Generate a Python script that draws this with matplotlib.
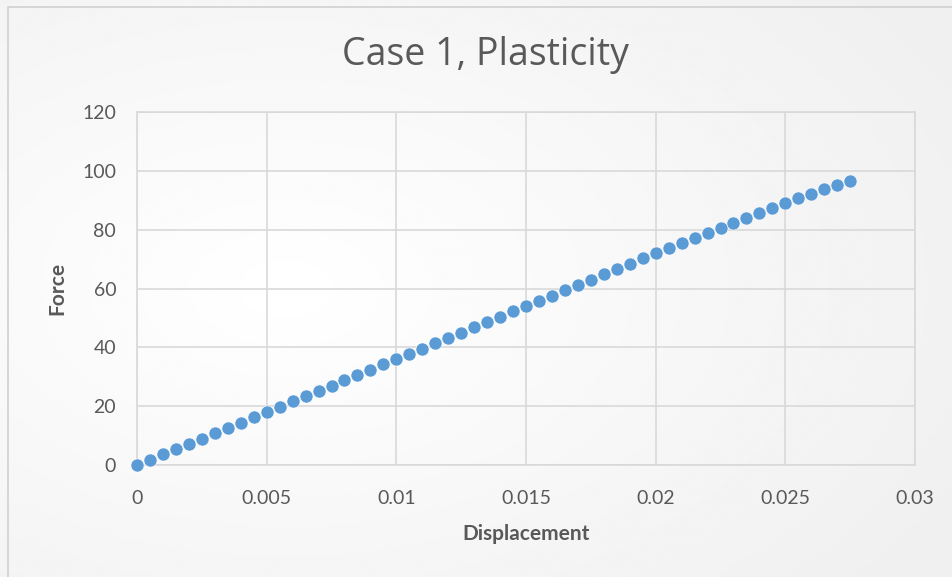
import numpy as np
import matplotlib.pyplot as plt
from matplotlib.patches import Rectangle

displacement = [i * 0.0005 for i in range(56)]
force = [0.0, 1.8, 3.6, 5.4, 7.2, 9.0, 10.8, 12.6, 14.4, 16.2,
         18.0, 19.8, 21.6, 23.4, 25.2, 27.0, 28.8, 30.6, 32.4, 34.2,
         36.0, 37.8, 39.6, 41.4, 43.2, 45.0, 46.8, 48.6, 50.4, 52.2,
         54.0, 55.8, 57.6, 59.4, 61.2, 63.0, 64.8, 66.6, 68.4, 70.2,
         72.0, 73.7, 75.4, 77.1, 78.8, 80.5, 82.2, 83.9, 85.6, 87.3,
         89.0, 90.6, 92.2, 93.7, 95.2, 96.7]

x_ticks = [0, 0.005, 0.01, 0.015, 0.02, 0.025, 0.03]
x_labels = ["0", "0.005", "0.01", "0.015", "0.02", "0.025", "0.03"]
y_ticks = [0, 20, 40, 60, 80, 100, 120]

grau = "#595959"
gitter = "#D9D9D9"
blau = "#5B9BD5"

plt.rcParams['font.family'] = ['Lato', 'DejaVu Sans']

fig = plt.figure(figsize=(9.52, 5.77), dpi=100)

# Hintergrund mit leichtem Verlauf
bg = fig.add_axes([0, 0, 1, 1], zorder=-10)
yy, xx = np.mgrid[0:1:200j, 0:1:300j]
r = np.sqrt((xx - 0.3) ** 2 + (yy - 0.5) ** 2)
verlauf = 1.0 - 0.06 * np.clip(r / 0.8, 0, 1)
bg.imshow(verlauf, cmap='gray', vmin=0, vmax=1, aspect='auto',
          extent=[0, 1, 0, 1], origin='lower')
bg.add_patch(Rectangle((8 / 952, -0.1), 1.2, 1 - 7 / 577 + 0.1,
                       fill=False, edgecolor="#D0D0D0", lw=1.2))
bg.set_xlim(0, 1)
bg.set_ylim(0, 1)
bg.axis('off')

ax = fig.add_axes([137 / 952, 1 - 465 / 577, (915 - 137) / 952, (465 - 112) / 577])
ax.patch.set_alpha(0)

ax.plot(displacement, force, 'o', color=blau, ms=9.4,
        mec='white', mew=0.4, zorder=3, clip_on=False)

ax.set_xlim(0, 0.03)
ax.set_ylim(0, 120)
ax.set_xticks(x_ticks)
ax.set_xticklabels(x_labels)
ax.set_yticks(y_ticks)
ax.grid(True, color=gitter, lw=1.2)
ax.set_axisbelow(True)
for s in ax.spines.values():
    s.set_color(gitter)
    s.set_linewidth(1.2)
ax.tick_params(length=0, labelsize=14, labelcolor=grau)
ax.tick_params(axis='x', pad=18)
ax.tick_params(axis='y', pad=15)

ax.set_xlabel("Displacement", fontsize=15, fontweight='bold', color=grau, labelpad=12)
ax.set_ylabel("Force", fontsize=15, fontweight='bold', color=grau, labelpad=11)

fig.text(485 / 952, 1 - 55 / 577, "Case 1, Plasticity", ha='center', va='center',
         fontsize=27, color=grau, family=['Open Sans', 'DejaVu Sans'])

fig.savefig("out.png", dpi=100)
